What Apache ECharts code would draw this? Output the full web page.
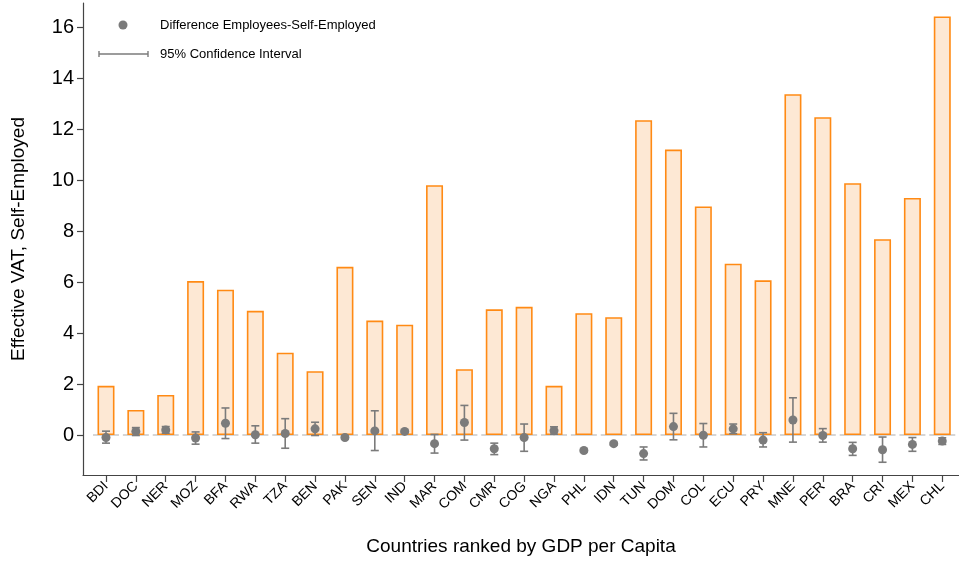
<!DOCTYPE html>
<html>
<head>
<meta charset="utf-8">
<script src="https://cdn.jsdelivr.net/npm/echarts@6/dist/echarts.min.js"></script>
<style>
  html, body { margin: 0; padding: 0; background: #fff; }
  #chart { width: 959px; height: 561px; }
</style>
</head>
<body>
<div id="chart"></div>
<script>
// Countries ordered by GDP per capita
const countries = ['BDI','DOC','NER','MOZ','BFA','RWA','TZA','BEN','PAK','SEN','IND','MAR','COM','CMR','COG','NGA','PHL','IDN','TUN','DOM','COL','ECU','PRY','MNE','PER','BRA','CRI','MEX','CHL'];

// Effective VAT paid by the self-employed
const vatSelfEmployed = [1.93,0.98,1.57,6.04,5.70,4.87,3.23,2.50,6.60,4.49,4.33,9.80,2.58,4.93,5.03,1.93,4.78,4.62,12.35,11.20,8.97,6.72,6.07,13.37,12.47,9.88,7.68,9.30,16.42];

// Difference employees minus self-employed, with 95% confidence bounds
const diffMean = [-0.10,0.14,0.20,-0.12,0.46,0.01,0.06,0.24,-0.10,0.16,0.14,-0.34,0.49,-0.54,-0.10,0.17,-0.61,-0.34,-0.73,0.33,-0.01,0.24,-0.20,0.59,-0.02,-0.54,-0.58,-0.37,-0.24];
const ciLow  = [-0.32,-0.02,0.07,-0.36,-0.14,-0.32,-0.52,-0.02,-0.15,-0.61,0.09,-0.71,-0.20,-0.77,-0.64,0.03,-0.66,-0.39,-0.98,-0.19,-0.47,0.05,-0.47,-0.28,-0.28,-0.80,-1.07,-0.64,-0.37];
const ciHigh = [0.15,0.29,0.33,0.12,1.06,0.36,0.64,0.50,-0.05,0.95,0.19,0.02,1.16,-0.32,0.43,0.32,-0.56,-0.29,-0.47,0.85,0.45,0.43,0.09,1.46,0.25,-0.29,-0.08,-0.10,-0.11];

// Y axis tick values
const yTicks = [0, 2, 4, 6, 8, 10, 12, 14, 16];

const idx = countries.map((_, i) => i);
const FONT = 'Liberation Sans, Arial, sans-serif';
const GRAY = '#7b7b7b';

const chart = echarts.init(document.getElementById('chart'), null, { renderer: 'canvas' });

chart.setOption({
  animation: false,
  backgroundColor: '#fff',
  grid: { left: 83, right: 0, top: 3, bottom: 81, containLabel: false },
  xAxis: {
    type: 'value',
    min: -0.77,
    max: 28.56,
    name: 'Countries ranked by GDP per Capita',
    nameLocation: 'middle',
    nameGap: 62,
    nameTextStyle: { fontFamily: FONT, fontSize: 19, color: '#000' },
    axisLine: { onZero: false, lineStyle: { color: '#444', width: 1.2 } },
    axisTick: { customValues: idx, length: 7, lineStyle: { color: '#444', width: 1.2 } },
    axisLabel: {
      customValues: idx,
      formatter: v => countries[Math.round(v)],
      rotate: 45,
      margin: 9,
      fontFamily: FONT,
      fontSize: 14,
      color: '#000'
    },
    splitLine: { show: false }
  },
  yAxis: {
    type: 'value',
    min: -1.57,
    max: 16.95,
    name: 'Effective VAT, Self-Employed',
    nameLocation: 'middle',
    nameGap: 55,
    nameTextStyle: { fontFamily: FONT, fontSize: 19, color: '#000' },
    axisLine: { show: true, onZero: false, lineStyle: { color: '#444', width: 1.2 } },
    axisTick: { show: true, customValues: yTicks, length: 6, lineStyle: { color: '#444', width: 1.2 } },
    axisLabel: {
      customValues: yTicks,
      margin: 9,
      fontFamily: FONT,
      fontSize: 20,
      color: '#000'
    },
    splitLine: { show: false }
  },
  series: [
    {
      // zero reference segment under each country
      type: 'custom',
      z: 1,
      data: idx.map(i => [i, 0]),
      renderItem: (params, api) => {
        const p = api.coord([api.value(0), 0]);
        return {
          type: 'line',
          shape: { x1: p[0] - 13, y1: p[1], x2: p[0] + 13, y2: p[1] },
          style: { stroke: '#c8c8c8', lineWidth: 1.5 }
        };
      }
    },
    {
      name: 'Effective VAT, Self-Employed',
      type: 'bar',
      z: 2,
      barWidth: 17,
      data: idx.map(i => [i, vatSelfEmployed[i]]),
      itemStyle: { color: '#fde8d4', borderColor: '#ff8a14', borderWidth: 1.6 }
    },
    {
      name: '95% Confidence Interval',
      type: 'custom',
      z: 3,
      data: idx.map(i => [i, ciLow[i], ciHigh[i]]),
      renderItem: (params, api) => {
        const lo = api.coord([api.value(0), api.value(1)]);
        const hi = api.coord([api.value(0), api.value(2)]);
        const cap = 4;
        const style = { stroke: GRAY, lineWidth: 1.6 };
        return {
          type: 'group',
          children: [
            { type: 'line', shape: { x1: lo[0], y1: lo[1], x2: hi[0], y2: hi[1] }, style },
            { type: 'line', shape: { x1: lo[0] - cap, y1: lo[1], x2: lo[0] + cap, y2: lo[1] }, style },
            { type: 'line', shape: { x1: hi[0] - cap, y1: hi[1], x2: hi[0] + cap, y2: hi[1] }, style }
          ]
        };
      }
    },
    {
      name: 'Difference Employees-Self-Employed',
      type: 'scatter',
      z: 4,
      symbol: 'circle',
      symbolSize: 9,
      data: idx.map(i => [i, diffMean[i]]),
      itemStyle: { color: GRAY, opacity: 1 }
    }
  ],
  graphic: [
    { type: 'circle', shape: { cx: 123, cy: 25, r: 4.5 }, style: { fill: GRAY } },
    { type: 'text', x: 160, y: 25, style: { text: 'Difference Employees-Self-Employed', font: '13px ' + FONT, fill: '#000', verticalAlign: 'middle' } },
    { type: 'line', shape: { x1: 99, y1: 54, x2: 148, y2: 54 }, style: { stroke: GRAY, lineWidth: 1.4 } },
    { type: 'line', shape: { x1: 99, y1: 51, x2: 99, y2: 57 }, style: { stroke: GRAY, lineWidth: 1.4 } },
    { type: 'line', shape: { x1: 148, y1: 51, x2: 148, y2: 57 }, style: { stroke: GRAY, lineWidth: 1.4 } },
    { type: 'text', x: 160, y: 54, style: { text: '95% Confidence Interval', font: '13px ' + FONT, fill: '#000', verticalAlign: 'middle' } }
  ]
});
</script>
</body>
</html>
